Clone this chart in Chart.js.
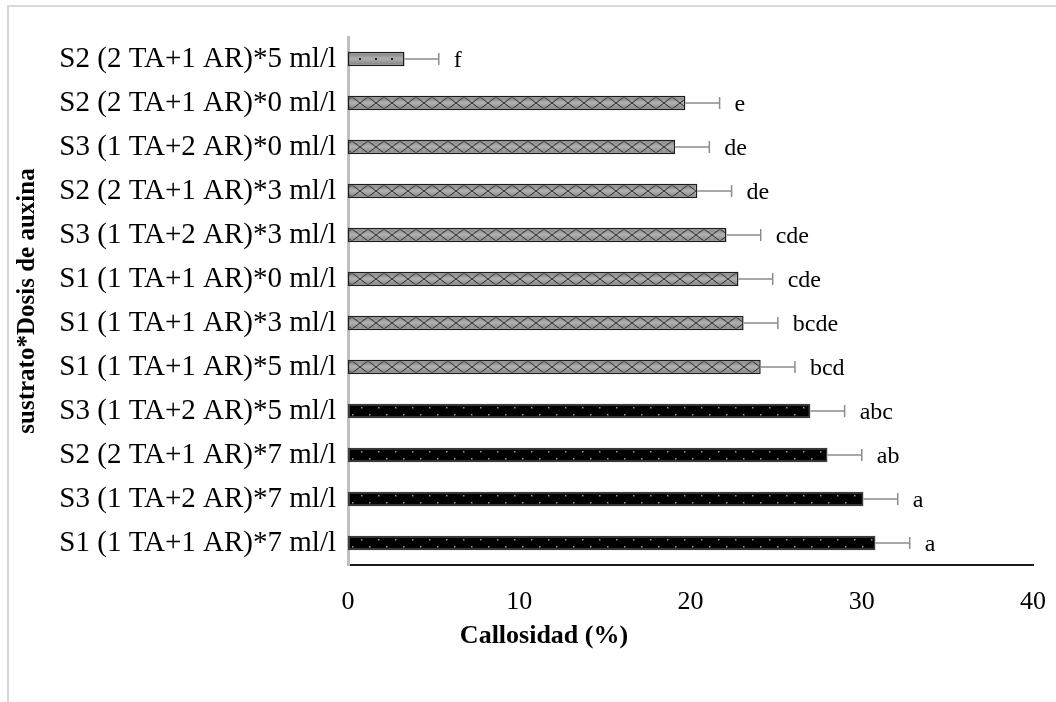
<!DOCTYPE html>
<html>
<head>
<meta charset="utf-8">
<script src="https://cdn.jsdelivr.net/npm/chart.js@4.4.1/dist/chart.umd.min.js"></script>
<style>
  html, body { margin: 0; padding: 0; background: #ffffff; overflow: hidden; }
  #frame { position: absolute; left: 7px; top: 5px; width: 1100px; height: 800px;
           border-left: 2px solid #d9d9d9; border-top: 2px solid #d9d9d9; }
  #wrap { position: absolute; left: 0; top: 0; width: 1056px; height: 702px; }
</style>
</head>
<body>
<div id="frame"></div>
<div id="wrap"><canvas id="chart" width="1056" height="702"></canvas></div>
<script>
// Treatments (sustrato * dosis de auxina), listed top to bottom
const categories = [
  'S2 (2 TA+1 AR)*5 ml/l',
  'S2 (2 TA+1 AR)*0 ml/l',
  'S3 (1 TA+2 AR)*0 ml/l',
  'S2 (2 TA+1 AR)*3 ml/l',
  'S3 (1 TA+2 AR)*3 ml/l',
  'S1 (1 TA+1 AR)*0 ml/l',
  'S1 (1 TA+1 AR)*3 ml/l',
  'S1 (1 TA+1 AR)*5 ml/l',
  'S3 (1 TA+2 AR)*5 ml/l',
  'S2 (2 TA+1 AR)*7 ml/l',
  'S3 (1 TA+2 AR)*7 ml/l',
  'S1 (1 TA+1 AR)*7 ml/l'
];
// Mean callus formation (%)
const callosidad = [3.3, 19.7, 19.1, 20.4, 22.1, 22.8, 23.1, 24.1, 27.0, 28.0, 30.1, 30.8];
// Standard error of each mean
const errorEstandar = [2.0, 2.0, 2.0, 2.0, 2.0, 2.0, 2.0, 2.0, 2.0, 2.0, 2.0, 2.0];
// Tukey grouping letters
const letras = ['f', 'e', 'de', 'de', 'cde', 'cde', 'bcde', 'bcd', 'abc', 'ab', 'a', 'a'];
// Fill group: 'punto' = grey dotted, 'red' = grey lattice, 'negro' = black dotted
const grupos = ['punto', 'red', 'red', 'red', 'red', 'red', 'red', 'red', 'negro', 'negro', 'negro', 'negro'];
const xTicks = [0, 10, 20, 30, 40];

const SERIF = '"Liberation Serif", "Times New Roman", serif';

// --- fill patterns (tile height equals the category band so shading lines up with each bar)
function makeLattice() {
  const c = document.createElement('canvas');
  c.width = 16; c.height = 44;
  const x = c.getContext('2d');
  const g = x.createLinearGradient(0, 8, 0, 22);
  g.addColorStop(0, '#7c7c7c');
  g.addColorStop(0.5, '#b2b2b2');
  g.addColorStop(1, '#7c7c7c');
  x.fillStyle = g; x.fillRect(0, 0, 16, 44);
  x.strokeStyle = '#2a2a2a'; x.lineWidth = 1;
  x.beginPath();
  x.moveTo(0, 9); x.lineTo(16, 21);
  x.moveTo(16, 9); x.lineTo(0, 21);
  x.stroke();
  return x.createPattern(c, 'repeat');
}
function makeGreyDots() {
  const c = document.createElement('canvas');
  c.width = 16; c.height = 44;
  const x = c.getContext('2d');
  const g = x.createLinearGradient(0, 8, 0, 22);
  g.addColorStop(0, '#7c7c7c');
  g.addColorStop(0.5, '#b0b0b0');
  g.addColorStop(1, '#7c7c7c');
  x.fillStyle = g; x.fillRect(0, 0, 16, 44);
  x.fillStyle = '#202020';
  x.fillRect(7, 14, 2, 2);
  return x.createPattern(c, 'repeat');
}
function makeBlackDots() {
  const c = document.createElement('canvas');
  c.width = 17; c.height = 44;
  const x = c.getContext('2d');
  x.fillStyle = '#000000'; x.fillRect(0, 0, 17, 44);
  x.fillStyle = '#9a9a9a';
  x.fillRect(4, 11, 1.5, 1.5);
  x.fillRect(12, 18, 1.5, 1.5);
  return x.createPattern(c, 'repeat');
}
const fills = { punto: makeGreyDots(), red: makeLattice(), negro: makeBlackDots() };
const borders = { punto: '#1e1e1e', red: '#1e1e1e', negro: '#3a3a3a' };

// --- error bars and group letters
const errorBars = {
  id: 'errorBars',
  afterDatasetsDraw(chart) {
    const ctx = chart.ctx;
    const xs = chart.scales.x;
    const meta = chart.getDatasetMeta(0);
    ctx.save();
    meta.data.forEach((bar, i) => {
      const y = bar.y;
      const x0 = xs.getPixelForValue(callosidad[i]);
      const x1 = xs.getPixelForValue(callosidad[i] + errorEstandar[i]);
      ctx.strokeStyle = '#8c8c8c';
      ctx.lineWidth = 1.5;
      ctx.beginPath();
      ctx.moveTo(x0, y); ctx.lineTo(x1, y);
      ctx.moveTo(x1, y - 6); ctx.lineTo(x1, y + 6);
      ctx.stroke();
      ctx.fillStyle = '#000000';
      ctx.font = '24px ' + SERIF;
      ctx.textAlign = 'left';
      ctx.textBaseline = 'middle';
      ctx.fillText(letras[i], x1 + 15, y + 2);
    });
    ctx.restore();
  }
};

// --- horizontal axis title, centred under the whole chart block
const xTitle = {
  id: 'xTitle',
  afterDraw(chart) {
    const ctx = chart.ctx;
    ctx.save();
    ctx.fillStyle = '#000000';
    ctx.font = 'bold 26px ' + SERIF;
    ctx.textAlign = 'center';
    ctx.textBaseline = 'middle';
    ctx.fillText('Callosidad (%)', (55 + chart.chartArea.right) / 2, 636);
    ctx.restore();
  }
};

new Chart(document.getElementById('chart'), {
  type: 'bar',
  data: {
    labels: categories,
    datasets: [{
      data: callosidad,
      backgroundColor: grupos.map(g => fills[g]),
      borderColor: grupos.map(g => borders[g]),
      borderWidth: 1.5,
      borderSkipped: false,
      barPercentage: 0.33,
      categoryPercentage: 1.0
    }]
  },
  options: {
    indexAxis: 'y',
    responsive: false,
    animation: false,
    devicePixelRatio: 1,
    layout: { padding: { left: 0, top: 37, right: 23, bottom: 0 } },
    plugins: { legend: { display: false }, tooltip: { enabled: false } },
    scales: {
      x: {
        min: 0, max: 40,
        afterBuildTicks(scale) { scale.ticks = xTicks.map(v => ({ value: v })); },
        afterFit(scale) { scale.height = 137; },
        // invisible tick marks provide the gap between axis line and labels
        grid: { display: false, drawTicks: true, tickLength: 22 },
        border: { display: true, color: '#1a1a1a', width: 2 },
        ticks: { color: '#000000', font: { family: SERIF, size: 26 }, padding: 0, maxRotation: 0 }
      },
      y: {
        afterFit(scale) { scale.width = 348; },
        grid: { display: false, drawTicks: false },
        border: { display: true, color: '#bfbfbf', width: 3 },
        ticks: { color: '#000000', font: { family: SERIF, size: 29 }, padding: 12 },
        title: {
          display: true,
          text: 'sustrato*Dosis de auxina',
          color: '#000000',
          font: { family: SERIF, size: 25, weight: 'bold' },
          padding: { top: 13, bottom: 0 }
        }
      }
    }
  },
  plugins: [errorBars, xTitle]
});
</script>
</body>
</html>
